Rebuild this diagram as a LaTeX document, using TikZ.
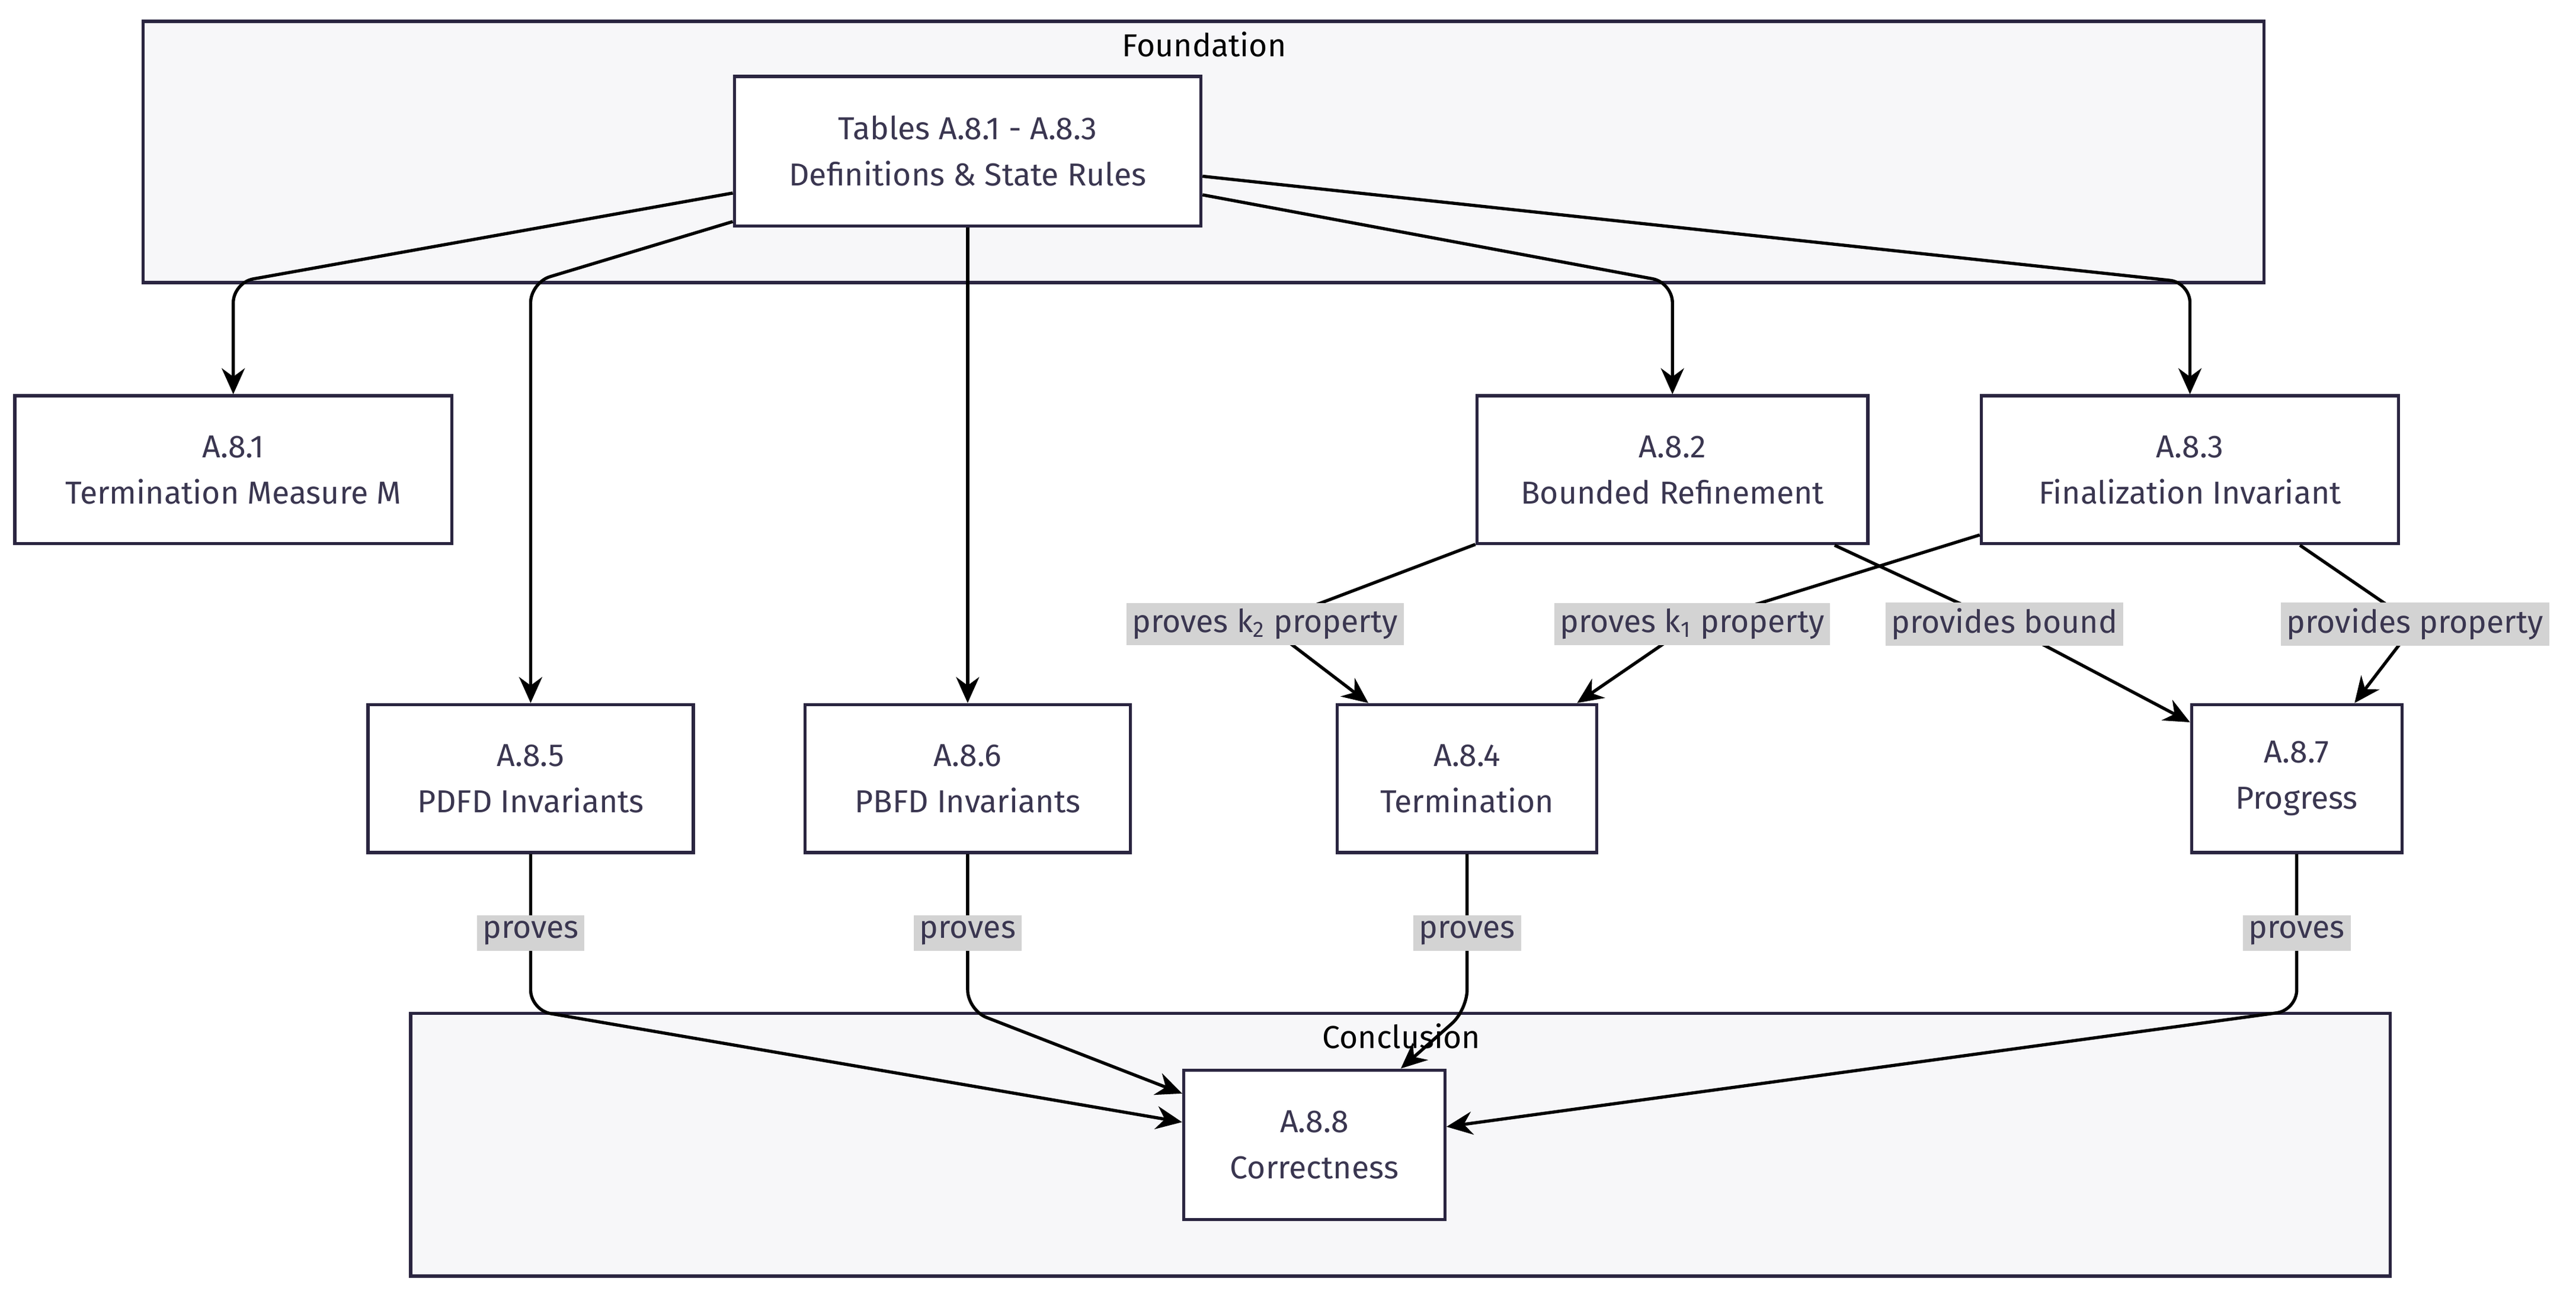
\documentclass[tikz,border=0pt]{standalone}
\usepackage{fontspec}
\setmainfont{Fira Sans}
\usetikzlibrary{arrows.meta}
\definecolor{ink}{HTML}{2A2540}
\definecolor{txt}{HTML}{3A3650}
\definecolor{grp}{HTML}{F7F7F9}
\definecolor{lbl}{HTML}{D3D3D3}
\begin{document}
\begin{tikzpicture}[x=0.02cm,y=-0.02cm,
  font=\fontsize{11}{14}\selectfont,
  grpbox/.style={draw=ink,line width=1.1pt,fill=grp},
  box/.style={draw=ink,line width=1.1pt,fill=white,text=txt,align=center,inner sep=0pt},
  edge/.style={draw=black,line width=1.1pt,-{Stealth[length=9pt,width=8pt]},rounded corners=7pt},
  elbl/.style={fill=lbl,text=txt,inner sep=2pt,font=\fontsize{11}{13}\selectfont}]
\useasboundingbox (0,0) rectangle (1568,792);
\fill[white] (0,0) rectangle (1568,792);
% groups
\draw[grpbox] (87,13) rectangle (1378,172);
\node[text=black] (gf) at (733,27) {Foundation};
\draw[grpbox] (250,617) rectangle (1455,777);
% nodes
\node[box,minimum width=284*0.02cm,minimum height=91*0.02cm] (t) at (589,92) {Tables A.8.1 - A.8.3\\[2pt]Definitions \& State Rules};
\node[box,minimum width=266*0.02cm,minimum height=90*0.02cm] (n81) at (142,286) {A.8.1\\[2pt]Termination Measure M};
\node[box,minimum width=238*0.02cm,minimum height=90*0.02cm] (n82) at (1018,286) {A.8.2\\[2pt]Bounded Refinement};
\node[box,minimum width=254*0.02cm,minimum height=90*0.02cm] (n83) at (1333,286) {A.8.3\\[2pt]Finalization Invariant};
\node[box,minimum width=198*0.02cm,minimum height=90*0.02cm] (n85) at (323,474) {A.8.5\\[2pt]PDFD Invariants};
\node[box,minimum width=198*0.02cm,minimum height=90*0.02cm] (n86) at (589,474) {A.8.6\\[2pt]PBFD Invariants};
\node[box,minimum width=158*0.02cm,minimum height=90*0.02cm] (n84) at (893,474) {A.8.4\\[2pt]Termination};
\node[box,minimum width=128*0.02cm,minimum height=90*0.02cm] (n87) at (1398,474) {A.8.7\\[2pt]Progress};
\node[box,minimum width=159*0.02cm,minimum height=91*0.02cm] (n88) at (800,697) {A.8.8\\[2pt]Correctness};
\node[text=black] (gc) at (853,631) {Conclusion};
% bend coordinates
\coordinate (b1) at (142,172);
\coordinate (b5) at (323,172);
\coordinate (b2) at (1018,172);
\coordinate (b3) at (1333,172);
\coordinate (p5) at (323,615);
\coordinate (p6) at (589,615);
\coordinate (p4) at (893,615);
\coordinate (p7) at (1398,615);
\coordinate (l1) at (770,380);
\coordinate (l2) at (1030,380);
\coordinate (l3) at (1220,380);
\coordinate (l4) at (1470,380);
% edges
\draw[edge] (t) -- (b1) -- (n81);
\draw[edge] (t) -- (b5) -- (n85);
\draw[edge] (t) -- (n86);
\draw[edge] (t) -- (b2) -- (n82);
\draw[edge] (t) -- (b3) -- (n83);
\draw[edge,rounded corners=0pt] (n82) -- (l1) -- (n84);
\draw[edge,rounded corners=0pt] (n83) -- (l2) -- (n84);
\draw[edge,rounded corners=0pt] (n82) -- (l3) -- (n87);
\draw[edge,rounded corners=0pt] (n83) -- (l4) -- (n87);
\draw[edge] (n85) -- (p5) -- (n88);
\draw[edge] (n86) -- (p6) -- (n88);
\draw[edge] (n84) -- (p4) -- (n88);
\draw[edge] (n87) -- (p7) -- (n88);
% labels
\node[elbl] (e1) at (l1) {proves k\textsubscript{2} property};
\node[elbl] (e2) at (l2) {proves k\textsubscript{1} property};
\node[elbl] (e3) at (l3) {provides bound};
\node[elbl] (e4) at (l4) {provides property};
\node[elbl] (e5) at (323,568) {proves};
\node[elbl] (e6) at (589,568) {proves};
\node[elbl] (e7) at (893,568) {proves};
\node[elbl] (e8) at (1398,568) {proves};
\end{tikzpicture}
\end{document}
